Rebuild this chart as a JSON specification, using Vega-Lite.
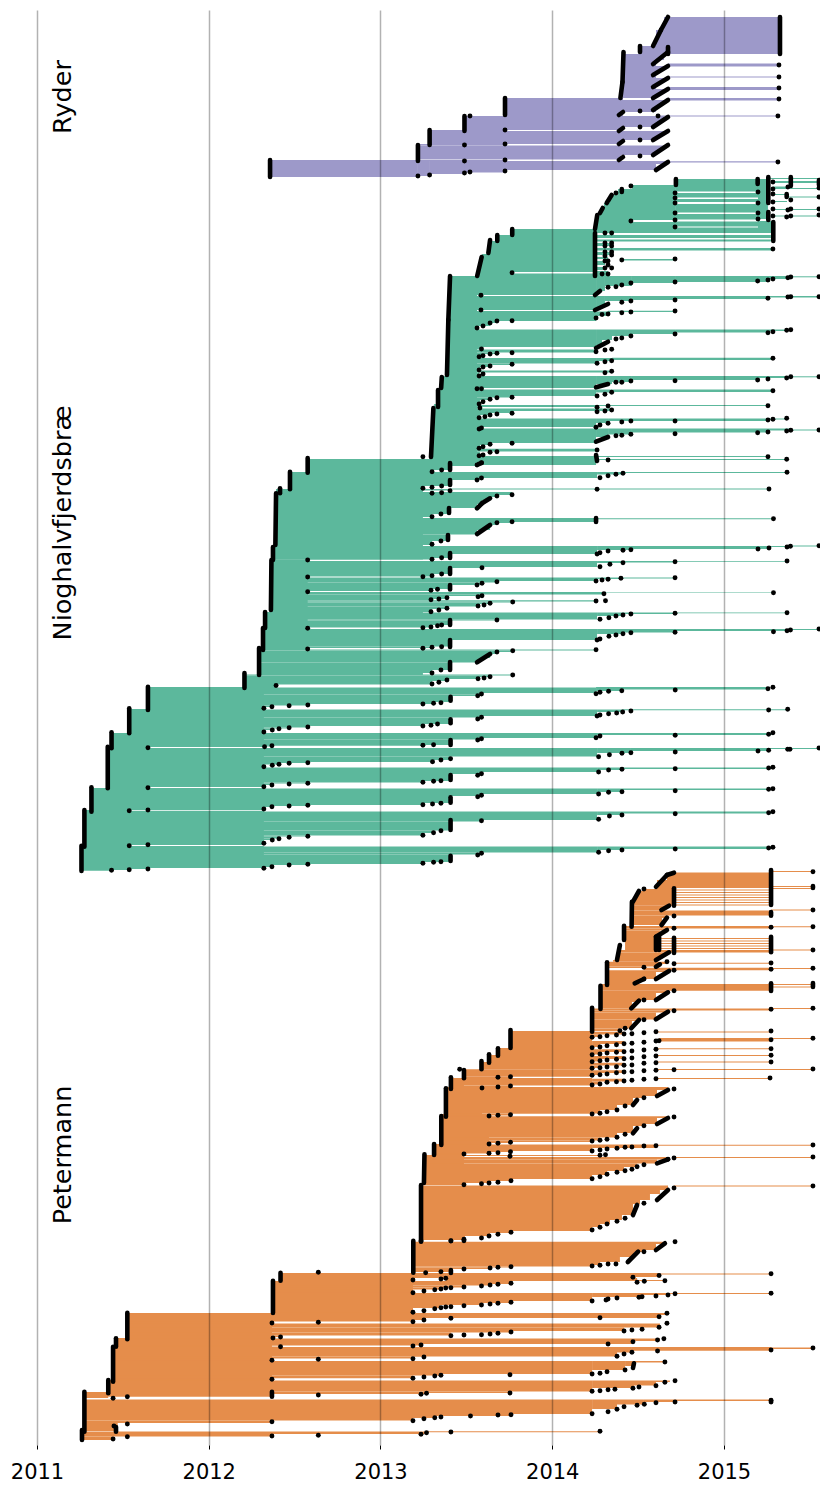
{"$schema":"https://vega.github.io/schema/vega-lite/v6.json","width":820,"height":1435,"autosize":{"type":"none"},"padding":{"left":0,"right":0,"top":10,"bottom":41},"background":"white","view":{"stroke":null},
"datasets":{
"bands":[
{"g":"N","from":2013.405,"to":2013.562,"r0":276,"r1":329},{"g":"N","from":2013.393,"to":2013.562,"r0":329,"r1":376},{"g":"N","from":2013.353,"to":2013.562,"r0":376,"r1":390},{"g":"N","from":2013.335,"to":2013.562,"r0":390,"r1":408},{"g":"N","from":2013.308,"to":2013.562,"r0":408,"r1":430},{"g":"N","from":2013.294,"to":2013.562,"r0":430,"r1":458},
{"g":"N","from":2012.392,"to":2013.247,"r0":489,"r1":545},{"g":"N","from":2012.374,"to":2013.247,"r0":545,"r1":559.5},{"g":"N","from":2012.365,"to":2012.576,"r0":559.5,"r1":612},{"g":"N","from":2012.328,"to":2012.576,"r0":612,"r1":629},{"g":"N","from":2012.316,"to":2012.576,"r0":629,"r1":650},{"g":"N","from":2012.293,"to":2013.247,"r0":672,"r1":675},{"g":"N","from":2012.208,"to":2012.392,"r0":684,"r1":688},{"g":"N","from":2012.365,"to":2013.247,"r0":612,"r1":613},
{"g":"N","from":2011.646,"to":2012.321,"r0":687,"r1":709.5},{"g":"N","from":2011.537,"to":2012.321,"r0":709,"r1":733},{"g":"N","from":2011.434,"to":2012.321,"r0":733,"r1":747},{"g":"N","from":2011.412,"to":2012.321,"r0":748,"r1":787},{"g":"N","from":2011.412,"to":2011.646,"r0":787,"r1":788},{"g":"N","from":2011.317,"to":2012.321,"r0":788,"r1":810.3},{"g":"N","from":2011.276,"to":2011.537,"r0":810,"r1":811},{"g":"N","from":2011.276,"to":2012.321,"r0":811,"r1":845},{"g":"N","from":2011.259,"to":2011.537,"r0":845,"r1":846},{"g":"N","from":2011.259,"to":2012.321,"r0":846,"r1":868},
{"g":"P","from":2011.526,"to":2012.368,"r0":1313,"r1":1338.5},{"g":"P","from":2011.46,"to":2012.368,"r0":1338,"r1":1347},{"g":"P","from":2011.443,"to":2012.368,"r0":1347,"r1":1380.5},{"g":"P","from":2011.415,"to":2012.368,"r0":1380,"r1":1396.5},{"g":"P","from":2012.374,"to":2013.189,"r0":1281,"r1":1313},{"g":"P","from":2013.354,"to":2013.632,"r0":1114,"r1":1145},{"g":"P","from":2013.381,"to":2013.591,"r0":1087,"r1":1116},{"g":"P","from":2013.253,"to":2013.486,"r0":1155,"r1":1185},{"g":"P","from":2013.312,"to":2013.486,"r0":1144,"r1":1156},{"g":"P","from":2013.41,"to":2013.486,"r0":1078,"r1":1088},
{"g":"R","from":2014.651,"to":2015.326,"r0":17,"r1":30},{"g":"R","from":2014.604,"to":2015.326,"r0":30,"r1":46},{"g":"R","from":2014.511,"to":2015.326,"r0":46,"r1":54},
{"g":"R","from":2014.412,"to":2014.651,"r0":54,"r1":60},{"g":"R","from":2014.412,"to":2014.604,"r0":60,"r1":66},{"g":"R","from":2014.412,"to":2014.651,"r0":66,"r1":71},{"g":"R","from":2014.412,"to":2014.604,"r0":71,"r1":78},{"g":"R","from":2014.412,"to":2014.651,"r0":78,"r1":83},{"g":"R","from":2014.412,"to":2014.604,"r0":83,"r1":89},{"g":"R","from":2014.412,"to":2014.651,"r0":89,"r1":94},{"g":"R","from":2014.412,"to":2014.604,"r0":94,"r1":98},
{"g":"R","from":2014.674,"to":2015.32,"r0":63.5,"r1":66.5},{"g":"R","from":2014.674,"to":2015.32,"r0":76.5,"r1":77.5},{"g":"R","from":2014.674,"to":2015.32,"r0":87,"r1":90},{"g":"R","from":2014.674,"to":2015.32,"r0":98,"r1":100.5},
{"g":"R","from":2013.725,"to":2014.412,"r0":98,"r1":116},{"g":"R","from":2014.412,"to":2014.651,"r0":100,"r1":105},{"g":"R","from":2014.412,"to":2014.604,"r0":105,"r1":112},
{"g":"R","from":2013.489,"to":2014.651,"r0":116,"r1":122},{"g":"R","from":2013.489,"to":2014.604,"r0":122,"r1":127},{"g":"R","from":2013.489,"to":2014.4,"r0":127,"r1":130},{"g":"R","from":2014.616,"to":2015.314,"r0":115.5,"r1":116.5},
{"g":"R","from":2013.286,"to":2013.725,"r0":130,"r1":131},{"g":"R","from":2013.286,"to":2014.651,"r0":131,"r1":136},{"g":"R","from":2013.286,"to":2014.604,"r0":136,"r1":140},{"g":"R","from":2013.286,"to":2014.4,"r0":140,"r1":144},
{"g":"R","from":2013.218,"to":2013.725,"r0":144,"r1":145.5},{"g":"R","from":2013.218,"to":2014.651,"r0":145.5,"r1":150},{"g":"R","from":2013.218,"to":2014.604,"r0":150,"r1":155},{"g":"R","from":2013.218,"to":2014.4,"r0":155,"r1":159.5},{"g":"R","from":2012.357,"to":2013.725,"r0":160,"r1":161},
{"g":"R","from":2012.357,"to":2013.218,"r0":161,"r1":177},{"g":"R","from":2013.218,"to":2013.288,"r0":161,"r1":176},{"g":"R","from":2013.288,"to":2013.492,"r0":161,"r1":174},{"g":"R","from":2013.492,"to":2013.725,"r0":161,"r1":172.5},{"g":"R","from":2013.725,"to":2014.604,"r0":161,"r1":170},{"g":"R","from":2014.604,"to":2014.674,"r0":161,"r1":164},{"g":"R","from":2014.674,"to":2015.314,"r0":161.3,"r1":162.5},

{"g":"N","from":2014.72,"to":2015.256,"r0":179,"r1":185},{"g":"N","from":2014.464,"to":2014.72,"r0":185,"r1":189},{"g":"N","from":2014.383,"to":2014.72,"r0":189,"r1":195},{"g":"N","from":2014.336,"to":2014.72,"r0":195,"r1":203},{"g":"N","from":2014.301,"to":2014.72,"r0":203,"r1":208},{"g":"N","from":2014.278,"to":2014.72,"r0":208,"r1":215},{"g":"N","from":2014.261,"to":2014.72,"r0":215,"r1":220},{"g":"N","from":2014.261,"to":2014.458,"r0":220,"r1":222},{"g":"N","from":2014.249,"to":2014.72,"r0":222,"r1":230},
{"g":"N","from":2014.72,"to":2015.198,"r0":185,"r1":191.5},{"g":"N","from":2014.72,"to":2015.198,"r0":193,"r1":197.5},{"g":"N","from":2014.72,"to":2015.198,"r0":199,"r1":202},{"g":"N","from":2014.72,"to":2015.198,"r0":204,"r1":212.5},{"g":"N","from":2014.72,"to":2015.198,"r0":214,"r1":219.5},{"g":"N","from":2014.72,"to":2015.198,"r0":221.5,"r1":226.5},{"g":"N","from":2014.72,"to":2015.198,"r0":227.5,"r1":229},
{"g":"N","from":2015.198,"to":2015.256,"r0":185,"r1":219},{"g":"N","from":2015.198,"to":2015.285,"r0":221,"r1":229},
{"g":"N","from":2015.256,"to":2015.553,"r0":178,"r1":179},{"g":"N","from":2015.285,"to":2015.553,"r0":181,"r1":183},{"g":"N","from":2015.285,"to":2015.367,"r0":186.5,"r1":188},{"g":"N","from":2015.285,"to":2015.553,"r0":188,"r1":189},{"g":"N","from":2015.285,"to":2015.367,"r0":194,"r1":195},{"g":"N","from":2015.367,"to":2015.553,"r0":196.5,"r1":197.5},{"g":"N","from":2015.285,"to":2015.367,"r0":201,"r1":202},{"g":"N","from":2015.285,"to":2015.553,"r0":209,"r1":210},{"g":"N","from":2015.285,"to":2015.553,"r0":215.5,"r1":216.5},
{"g":"N","from":2014.249,"to":2015.285,"r0":229,"r1":233},{"g":"N","from":2014.249,"to":2015.273,"r0":235,"r1":238},{"g":"N","from":2014.249,"to":2015.273,"r0":239.5,"r1":241.5},{"g":"N","from":2014.249,"to":2015.285,"r0":248,"r1":250.5},{"g":"N","from":2014.249,"to":2014.348,"r0":243,"r1":246},{"g":"N","from":2014.249,"to":2014.348,"r0":252,"r1":255},{"g":"N","from":2014.249,"to":2014.325,"r0":257,"r1":259},{"g":"N","from":2014.249,"to":2014.307,"r0":261,"r1":265},{"g":"N","from":2014.249,"to":2014.307,"r0":267,"r1":270},{"g":"N","from":2014.405,"to":2014.715,"r0":259,"r1":260.5},{"g":"N","from":2014.249,"to":2014.325,"r0":271,"r1":277},
{"g":"N","from":2013.767,"to":2014.249,"r0":229,"r1":235},{"g":"N","from":2013.678,"to":2014.249,"r0":235,"r1":241},{"g":"N","from":2013.632,"to":2014.249,"r0":241,"r1":254},{"g":"N","from":2013.591,"to":2014.249,"r0":254,"r1":262},{"g":"N","from":2013.574,"to":2014.249,"r0":262,"r1":272},{"g":"N","from":2013.574,"to":2013.766,"r0":272,"r1":276},{"g":"N","from":2013.766,"to":2014.249,"r0":273.5,"r1":276},
{"g":"N","from":2013.405,"to":2014.255,"r0":276,"r1":295},{"g":"N","from":2014.255,"to":2014.307,"r0":276,"r1":291},{"g":"N","from":2014.307,"to":2014.464,"r0":276,"r1":286},{"g":"N","from":2014.464,"to":2014.715,"r0":276,"r1":283},{"g":"N","from":2014.715,"to":2015.268,"r0":276,"r1":282},{"g":"N","from":2015.268,"to":2015.384,"r0":276,"r1":279},{"g":"N","from":2015.384,"to":2015.553,"r0":276.3,"r1":277.3},
{"g":"N","from":2013.405,"to":2014.255,"r0":296,"r1":310},{"g":"N","from":2014.255,"to":2014.307,"r0":296,"r1":307},{"g":"N","from":2014.307,"to":2014.464,"r0":296,"r1":301},{"g":"N","from":2014.464,"to":2014.715,"r0":296,"r1":300},{"g":"N","from":2014.715,"to":2015.256,"r0":296,"r1":299},{"g":"N","from":2015.256,"to":2015.553,"r0":296,"r1":297.5},
{"g":"N","from":2013.399,"to":2014.255,"r0":311,"r1":321},{"g":"N","from":2013.399,"to":2013.678,"r0":321,"r1":323},{"g":"N","from":2013.399,"to":2013.638,"r0":323,"r1":326},{"g":"N","from":2013.399,"to":2013.562,"r0":326,"r1":329},{"g":"N","from":2014.255,"to":2014.325,"r0":311.5,"r1":316},{"g":"N","from":2014.325,"to":2014.715,"r0":310.7,"r1":312},
{"g":"N","from":2013.393,"to":2014.255,"r0":329.5,"r1":347},{"g":"N","from":2014.255,"to":2014.715,"r0":329.5,"r1":334},{"g":"N","from":2014.255,"to":2014.464,"r0":334,"r1":336},{"g":"N","from":2014.255,"to":2014.348,"r0":336,"r1":340},{"g":"N","from":2014.255,"to":2014.29,"r0":340,"r1":345},{"g":"N","from":2014.715,"to":2015.268,"r0":329.5,"r1":332.5},{"g":"N","from":2015.268,"to":2015.384,"r0":329.5,"r1":331},
{"g":"N","from":2013.393,"to":2013.588,"r0":347,"r1":349},{"g":"N","from":2013.393,"to":2014.255,"r0":349.5,"r1":352.5},{"g":"N","from":2013.393,"to":2013.678,"r0":352.5,"r1":354},{"g":"N","from":2013.393,"to":2013.597,"r0":354,"r1":357},
{"g":"N","from":2013.393,"to":2014.255,"r0":358,"r1":363.5},{"g":"N","from":2014.255,"to":2014.348,"r0":358,"r1":361},{"g":"N","from":2014.348,"to":2015.283,"r0":357.7,"r1":360},{"g":"N","from":2013.393,"to":2013.766,"r0":363.5,"r1":365},{"g":"N","from":2013.393,"to":2013.638,"r0":365,"r1":367},{"g":"N","from":2013.393,"to":2013.579,"r0":367,"r1":370},{"g":"N","from":2013.393,"to":2014.348,"r0":370.5,"r1":372.5},{"g":"N","from":2013.393,"to":2013.574,"r0":372.5,"r1":376},
{"g":"N","from":2013.387,"to":2014.255,"r0":376,"r1":388},{"g":"N","from":2014.255,"to":2014.348,"r0":376,"r1":384},{"g":"N","from":2014.348,"to":2014.464,"r0":376,"r1":382},{"g":"N","from":2014.464,"to":2015.198,"r0":376,"r1":380},{"g":"N","from":2015.198,"to":2015.384,"r0":376,"r1":378},{"g":"N","from":2015.384,"to":2015.553,"r0":376.3,"r1":377.3},{"g":"N","from":2013.36,"to":2013.574,"r0":388,"r1":389},
{"g":"N","from":2013.353,"to":2014.255,"r0":389.5,"r1":396},{"g":"N","from":2014.255,"to":2014.348,"r0":389.5,"r1":392.5},{"g":"N","from":2014.348,"to":2015.283,"r0":389.5,"r1":392},{"g":"N","from":2013.353,"to":2013.766,"r0":396,"r1":397.5},{"g":"N","from":2013.353,"to":2013.638,"r0":397.5,"r1":400},{"g":"N","from":2013.335,"to":2013.579,"r0":400,"r1":404},{"g":"N","from":2013.312,"to":2013.579,"r0":404,"r1":408},
{"g":"N","from":2013.579,"to":2014.261,"r0":405,"r1":407},{"g":"N","from":2014.261,"to":2015.256,"r0":405,"r1":406},{"g":"N","from":2013.312,"to":2014.348,"r0":408.5,"r1":411},{"g":"N","from":2013.312,"to":2013.766,"r0":411,"r1":413},{"g":"N","from":2013.312,"to":2013.638,"r0":413,"r1":415},{"g":"N","from":2013.312,"to":2013.579,"r0":415,"r1":417.7},
{"g":"N","from":2013.306,"to":2014.255,"r0":418.5,"r1":427},{"g":"N","from":2014.255,"to":2014.325,"r0":418.5,"r1":423},{"g":"N","from":2014.325,"to":2015.256,"r0":418.5,"r1":421},{"g":"N","from":2015.256,"to":2015.367,"r0":418.5,"r1":419.5},
{"g":"N","from":2013.306,"to":2014.255,"r0":428.5,"r1":441},{"g":"N","from":2014.255,"to":2014.325,"r0":428.5,"r1":437},{"g":"N","from":2014.325,"to":2014.464,"r0":428.5,"r1":434.5},{"g":"N","from":2014.464,"to":2015.256,"r0":428.5,"r1":432.5},{"g":"N","from":2015.256,"to":2015.384,"r0":428.5,"r1":430.5},{"g":"N","from":2015.384,"to":2015.553,"r0":429.5,"r1":430.5},
{"g":"N","from":2013.3,"to":2014.255,"r0":441,"r1":443},{"g":"N","from":2013.3,"to":2013.638,"r0":443,"r1":445},{"g":"N","from":2013.3,"to":2013.579,"r0":445,"r1":448},{"g":"N","from":2013.294,"to":2014.255,"r0":448.7,"r1":451.5},{"g":"N","from":2013.294,"to":2013.579,"r0":451.5,"r1":455},{"g":"N","from":2013.294,"to":2014.255,"r0":456,"r1":461.5},{"g":"N","from":2014.255,"to":2015.256,"r0":456,"r1":457},{"g":"N","from":2014.255,"to":2015.367,"r0":459,"r1":460},
{"g":"N","from":2012.576,"to":2014.255,"r0":459,"r1":465},{"g":"N","from":2012.576,"to":2013.579,"r0":465,"r1":466},{"g":"N","from":2012.576,"to":2013.405,"r0":466,"r1":470},{"g":"N","from":2012.576,"to":2013.3,"r0":470,"r1":472.5},
{"g":"N","from":2012.473,"to":2014.261,"r0":472,"r1":478},{"g":"N","from":2014.261,"to":2014.412,"r0":472,"r1":474.5},{"g":"N","from":2014.412,"to":2015.367,"r0":472,"r1":473},{"g":"N","from":2012.473,"to":2013.579,"r0":478,"r1":480},{"g":"N","from":2012.473,"to":2013.405,"r0":480,"r1":486},{"g":"N","from":2012.473,"to":2013.247,"r0":486,"r1":489},
{"g":"N","from":2012.392,"to":2013.405,"r0":489,"r1":490.5},{"g":"N","from":2013.405,"to":2015.262,"r0":488.5,"r1":489.5},
{"g":"N","from":2012.392,"to":2013.766,"r0":492,"r1":495},{"g":"N","from":2012.392,"to":2013.678,"r0":495,"r1":497},{"g":"N","from":2012.392,"to":2013.638,"r0":497,"r1":500},{"g":"N","from":2012.392,"to":2013.591,"r0":500,"r1":504},{"g":"N","from":2012.392,"to":2013.562,"r0":504,"r1":508},{"g":"N","from":2012.392,"to":2013.399,"r0":508,"r1":514},{"g":"N","from":2012.392,"to":2013.3,"r0":514,"r1":517},
{"g":"N","from":2012.392,"to":2014.255,"r0":518,"r1":522},{"g":"N","from":2014.255,"to":2015.288,"r0":518.3,"r1":519.3},{"g":"N","from":2012.392,"to":2013.766,"r0":522,"r1":523},{"g":"N","from":2012.392,"to":2013.678,"r0":523,"r1":525},{"g":"N","from":2012.392,"to":2013.638,"r0":525,"r1":530},{"g":"N","from":2012.392,"to":2013.562,"r0":530,"r1":534.5},{"g":"N","from":2012.392,"to":2013.393,"r0":534.5,"r1":541},{"g":"N","from":2012.392,"to":2013.3,"r0":541,"r1":545},
{"g":"N","from":2012.374,"to":2014.261,"r0":546,"r1":553},{"g":"N","from":2014.261,"to":2014.458,"r0":546,"r1":550},{"g":"N","from":2014.458,"to":2015.262,"r0":546,"r1":549},{"g":"N","from":2015.262,"to":2015.384,"r0":546,"r1":547},{"g":"N","from":2015.384,"to":2015.553,"r0":545.5,"r1":546.5},
{"g":"N","from":2012.374,"to":2014.261,"r0":553,"r1":554},{"g":"N","from":2012.374,"to":2013.405,"r0":554,"r1":558},{"g":"N","from":2012.374,"to":2013.3,"r0":558,"r1":559.5},
{"g":"N","from":2012.365,"to":2014.261,"r0":561,"r1":567},{"g":"N","from":2014.261,"to":2014.412,"r0":561,"r1":563},{"g":"N","from":2014.412,"to":2014.715,"r0":561,"r1":562.5},{"g":"N","from":2014.715,"to":2015.367,"r0":561,"r1":561.8},{"g":"N","from":2012.365,"to":2013.591,"r0":567,"r1":568},{"g":"N","from":2012.365,"to":2013.405,"r0":568,"r1":574},{"g":"N","from":2012.365,"to":2013.3,"r0":574,"r1":576.5},
{"g":"N","from":2012.365,"to":2014.261,"r0":577.5,"r1":581},{"g":"N","from":2014.261,"to":2014.4,"r0":577.5,"r1":579},{"g":"N","from":2014.4,"to":2014.715,"r0":577.5,"r1":578.5},{"g":"N","from":2012.365,"to":2013.678,"r0":581,"r1":582.5},{"g":"N","from":2012.365,"to":2013.579,"r0":582.5,"r1":585},{"g":"N","from":2012.365,"to":2013.405,"r0":585,"r1":589},{"g":"N","from":2012.365,"to":2013.3,"r0":589,"r1":591},
{"g":"N","from":2012.365,"to":2014.301,"r0":592,"r1":594.5},{"g":"N","from":2014.301,"to":2015.288,"r0":592.5,"r1":593},{"g":"N","from":2012.365,"to":2013.591,"r0":594.5,"r1":596},{"g":"N","from":2012.365,"to":2013.387,"r0":596,"r1":599},{"g":"N","from":2012.365,"to":2013.3,"r0":599,"r1":600},
{"g":"N","from":2012.365,"to":2014.255,"r0":600.2,"r1":601.5},{"g":"N","from":2012.365,"to":2013.766,"r0":601.5,"r1":602.5},{"g":"N","from":2012.365,"to":2013.638,"r0":602.5,"r1":604},{"g":"N","from":2012.365,"to":2013.579,"r0":604,"r1":606.5},{"g":"N","from":2012.365,"to":2013.387,"r0":606.5,"r1":609},{"g":"N","from":2012.365,"to":2013.3,"r0":609,"r1":612},
{"g":"N","from":2012.328,"to":2014.261,"r0":612.5,"r1":619.5},{"g":"N","from":2014.261,"to":2014.412,"r0":612.5,"r1":616},{"g":"N","from":2014.412,"to":2014.715,"r0":612.5,"r1":614},{"g":"N","from":2014.715,"to":2015.367,"r0":612.5,"r1":613.3},{"g":"N","from":2012.328,"to":2013.678,"r0":619.5,"r1":620.5},{"g":"N","from":2012.328,"to":2013.405,"r0":620.5,"r1":625},{"g":"N","from":2012.328,"to":2013.3,"r0":625,"r1":627.5},
{"g":"N","from":2012.316,"to":2014.261,"r0":629,"r1":640},{"g":"N","from":2014.261,"to":2014.412,"r0":629,"r1":634},{"g":"N","from":2014.412,"to":2014.715,"r0":629,"r1":632.5},{"g":"N","from":2014.715,"to":2015.367,"r0":629,"r1":631},{"g":"N","from":2015.367,"to":2015.553,"r0":629,"r1":630},{"g":"N","from":2012.316,"to":2013.405,"r0":640,"r1":646.5},{"g":"N","from":2012.316,"to":2013.3,"r0":646.5,"r1":648},
{"g":"N","from":2012.293,"to":2014.255,"r0":649.5,"r1":650.5},{"g":"N","from":2012.293,"to":2013.766,"r0":650.5,"r1":652},{"g":"N","from":2012.293,"to":2013.678,"r0":652,"r1":654},{"g":"N","from":2012.293,"to":2013.638,"r0":654,"r1":658},{"g":"N","from":2012.293,"to":2013.591,"r0":658,"r1":660},{"g":"N","from":2012.293,"to":2013.562,"r0":660,"r1":662.5},{"g":"N","from":2012.293,"to":2013.405,"r0":662.5,"r1":670},{"g":"N","from":2012.293,"to":2013.3,"r0":670,"r1":673},
{"g":"N","from":2012.208,"to":2013.766,"r0":674.5,"r1":675.5},{"g":"N","from":2012.208,"to":2013.638,"r0":675.5,"r1":677},{"g":"N","from":2012.208,"to":2013.574,"r0":677,"r1":679},{"g":"N","from":2012.208,"to":2013.387,"r0":679,"r1":681},{"g":"N","from":2012.208,"to":2013.3,"r0":681,"r1":684.5},
{"g":"N","from":2011.646,"to":2014.255,"r0":687.5,"r1":693},{"g":"N","from":2014.255,"to":2014.4,"r0":687,"r1":691},{"g":"N","from":2014.4,"to":2015.256,"r0":687,"r1":689.5},{"g":"N","from":2011.646,"to":2013.588,"r0":693,"r1":694.5},{"g":"N","from":2011.646,"to":2013.562,"r0":694.5,"r1":696},{"g":"N","from":2011.646,"to":2013.405,"r0":696,"r1":702},{"g":"N","from":2011.646,"to":2013.312,"r0":702,"r1":704},{"g":"N","from":2011.646,"to":2012.577,"r0":704,"r1":705.5},{"g":"N","from":2011.646,"to":2012.368,"r0":705.5,"r1":707},{"g":"N","from":2011.646,"to":2012.321,"r0":707,"r1":708.5},
{"g":"N","from":2011.537,"to":2014.261,"r0":709.5,"r1":716},{"g":"N","from":2014.261,"to":2014.406,"r0":709.5,"r1":712},{"g":"N","from":2014.406,"to":2015.367,"r0":709.3,"r1":710.3},{"g":"N","from":2011.537,"to":2013.588,"r0":716,"r1":717.5},{"g":"N","from":2011.537,"to":2013.405,"r0":717.5,"r1":724},{"g":"N","from":2011.537,"to":2013.247,"r0":724,"r1":726},{"g":"N","from":2011.537,"to":2012.577,"r0":726,"r1":727.5},{"g":"N","from":2011.537,"to":2012.468,"r0":727.5,"r1":728.5},{"g":"N","from":2011.537,"to":2012.368,"r0":728.5,"r1":730},{"g":"N","from":2011.537,"to":2012.321,"r0":730,"r1":732.5},
{"g":"N","from":2011.434,"to":2014.261,"r0":733,"r1":738},{"g":"N","from":2014.261,"to":2015.285,"r0":733,"r1":735},{"g":"N","from":2011.434,"to":2013.588,"r0":738,"r1":739.5},{"g":"N","from":2011.434,"to":2013.405,"r0":739.5,"r1":745},{"g":"N","from":2011.434,"to":2013.247,"r0":745,"r1":745.8},{"g":"N","from":2011.434,"to":2012.368,"r0":745.5,"r1":746.5},{"g":"N","from":2011.434,"to":2011.646,"r0":746.5,"r1":748},
{"g":"N","from":2011.412,"to":2014.261,"r0":748,"r1":756.5},{"g":"N","from":2014.261,"to":2014.453,"r0":748,"r1":753},{"g":"N","from":2014.453,"to":2015.256,"r0":748,"r1":751},{"g":"N","from":2015.256,"to":2015.553,"r0":748,"r1":749},{"g":"N","from":2011.412,"to":2013.405,"r0":756.5,"r1":760},{"g":"N","from":2011.412,"to":2013.306,"r0":760,"r1":762},{"g":"N","from":2011.412,"to":2012.577,"r0":762,"r1":763},{"g":"N","from":2011.412,"to":2012.409,"r0":763,"r1":764.5},{"g":"N","from":2011.412,"to":2012.321,"r0":764.5,"r1":767},
{"g":"N","from":2011.412,"to":2014.261,"r0":767.5,"r1":772},{"g":"N","from":2014.261,"to":2014.4,"r0":767.5,"r1":770},{"g":"N","from":2014.4,"to":2015.285,"r0":767.5,"r1":769},{"g":"N","from":2011.412,"to":2013.588,"r0":772,"r1":774},{"g":"N","from":2011.412,"to":2013.405,"r0":774,"r1":781},{"g":"N","from":2011.412,"to":2013.247,"r0":781,"r1":782.5},{"g":"N","from":2011.412,"to":2012.577,"r0":782.5,"r1":783.5},{"g":"N","from":2011.412,"to":2012.368,"r0":783.5,"r1":785},{"g":"N","from":2011.412,"to":2012.321,"r0":785,"r1":786.7},{"g":"N","from":2011.412,"to":2011.646,"r0":786.7,"r1":787.7},
{"g":"N","from":2011.317,"to":2014.261,"r0":788.5,"r1":794},{"g":"N","from":2014.261,"to":2014.4,"r0":788.5,"r1":792},{"g":"N","from":2014.4,"to":2015.285,"r0":788.5,"r1":790},{"g":"N","from":2011.317,"to":2013.588,"r0":794,"r1":796},{"g":"N","from":2011.317,"to":2013.405,"r0":796,"r1":803},{"g":"N","from":2011.317,"to":2013.247,"r0":803,"r1":805},{"g":"N","from":2011.317,"to":2012.577,"r0":805,"r1":806},{"g":"N","from":2011.317,"to":2012.368,"r0":806,"r1":807},{"g":"N","from":2011.317,"to":2012.321,"r0":807,"r1":809},{"g":"N","from":2011.317,"to":2011.646,"r0":809,"r1":810},
{"g":"N","from":2011.276,"to":2014.261,"r0":811.5,"r1":820},{"g":"N","from":2014.261,"to":2014.4,"r0":811.5,"r1":815},{"g":"N","from":2014.4,"to":2015.285,"r0":811.5,"r1":813.5},{"g":"N","from":2011.276,"to":2013.588,"r0":820,"r1":821.5},{"g":"N","from":2011.276,"to":2013.405,"r0":821.5,"r1":830.5},{"g":"N","from":2011.276,"to":2013.312,"r0":830.5,"r1":833},{"g":"N","from":2011.276,"to":2013.247,"r0":833,"r1":835.5},{"g":"N","from":2011.276,"to":2012.577,"r0":835.5,"r1":836.5},{"g":"N","from":2011.276,"to":2012.409,"r0":836.5,"r1":838.5},{"g":"N","from":2011.276,"to":2012.368,"r0":838.5,"r1":840},{"g":"N","from":2011.276,"to":2012.321,"r0":840,"r1":843.5},{"g":"N","from":2011.276,"to":2011.646,"r0":843.5,"r1":845},{"g":"N","from":2011.276,"to":2011.537,"r0":845,"r1":846},
{"g":"N","from":2011.259,"to":2014.261,"r0":846.5,"r1":852.5},{"g":"N","from":2014.261,"to":2014.4,"r0":846.5,"r1":850},{"g":"N","from":2014.4,"to":2015.285,"r0":846.5,"r1":849},{"g":"N","from":2011.259,"to":2013.588,"r0":852.5,"r1":854.5},{"g":"N","from":2011.259,"to":2013.405,"r0":854.5,"r1":862},{"g":"N","from":2011.259,"to":2013.247,"r0":862,"r1":864},{"g":"N","from":2011.259,"to":2012.577,"r0":864,"r1":865},{"g":"N","from":2011.259,"to":2012.368,"r0":865,"r1":867},{"g":"N","from":2011.259,"to":2011.646,"r0":867,"r1":869},{"g":"N","from":2011.259,"to":2011.537,"r0":869,"r1":870},{"g":"N","from":2011.259,"to":2011.434,"r0":870,"r1":870.8},

{"g":"P","from":2014.709,"to":2015.274,"r0":872.5,"r1":888},{"g":"P","from":2014.668,"to":2014.709,"r0":874,"r1":880},{"g":"P","from":2014.61,"to":2014.709,"r0":880,"r1":889},{"g":"P","from":2014.534,"to":2014.709,"r0":889,"r1":891},{"g":"P","from":2014.505,"to":2014.709,"r0":891,"r1":896},{"g":"P","from":2014.476,"to":2014.709,"r0":896,"r1":902},{"g":"P","from":2014.464,"to":2014.709,"r0":902,"r1":905.7},{"g":"P","from":2014.464,"to":2014.68,"r0":905.7,"r1":908},{"g":"P","from":2014.464,"to":2014.639,"r0":908,"r1":910.5},
{"g":"P","from":2015.274,"to":2015.518,"r0":871,"r1":872},{"g":"P","from":2015.274,"to":2015.518,"r0":886,"r1":887},{"g":"P","from":2015.274,"to":2015.518,"r0":888,"r1":889},
{"g":"P","from":2014.709,"to":2015.274,"r0":889.5,"r1":890.5},{"g":"P","from":2014.709,"to":2015.274,"r0":892,"r1":893},{"g":"P","from":2014.709,"to":2015.274,"r0":894.5,"r1":895.5},{"g":"P","from":2014.709,"to":2015.274,"r0":897,"r1":898},{"g":"P","from":2014.709,"to":2015.274,"r0":899.5,"r1":900.5},{"g":"P","from":2014.709,"to":2015.274,"r0":902,"r1":903},{"g":"P","from":2014.709,"to":2015.274,"r0":904.5,"r1":905.5},
{"g":"P","from":2014.464,"to":2015.274,"r0":910.5,"r1":915.5},{"g":"P","from":2015.274,"to":2015.518,"r0":909.5,"r1":910.5},{"g":"P","from":2014.464,"to":2014.668,"r0":915.5,"r1":918},{"g":"P","from":2014.464,"to":2014.639,"r0":918,"r1":925},
{"g":"P","from":2014.424,"to":2015.274,"r0":926,"r1":928.5},{"g":"P","from":2015.274,"to":2015.518,"r0":926.2,"r1":927.2},{"g":"P","from":2014.424,"to":2014.668,"r0":928.5,"r1":930.5},{"g":"P","from":2014.424,"to":2014.627,"r0":930.5,"r1":934},{"g":"P","from":2014.424,"to":2014.604,"r0":934,"r1":950},
{"g":"P","from":2014.604,"to":2015.274,"r0":938,"r1":939},{"g":"P","from":2014.604,"to":2015.274,"r0":940.5,"r1":941.5},{"g":"P","from":2014.604,"to":2015.274,"r0":943,"r1":944},{"g":"P","from":2014.604,"to":2015.274,"r0":945.5,"r1":946.5},{"g":"P","from":2014.604,"to":2015.274,"r0":948,"r1":949},
{"g":"P","from":2014.394,"to":2015.274,"r0":950,"r1":952.5},{"g":"P","from":2015.274,"to":2015.518,"r0":949.5,"r1":950.5},{"g":"P","from":2014.394,"to":2014.68,"r0":952.5,"r1":955},{"g":"P","from":2014.377,"to":2014.627,"r0":955,"r1":960},{"g":"P","from":2014.354,"to":2014.604,"r0":960,"r1":961.7},{"g":"P","from":2014.319,"to":2014.674,"r0":961.7,"r1":964},{"g":"P","from":2014.709,"to":2015.274,"r0":962.8,"r1":963.8},{"g":"P","from":2014.319,"to":2014.627,"r0":964,"r1":966.5},{"g":"P","from":2014.319,"to":2014.534,"r0":966.5,"r1":968},
{"g":"P","from":2014.534,"to":2015.274,"r0":967.8,"r1":970.3},{"g":"P","from":2015.274,"to":2015.518,"r0":968,"r1":969},{"g":"P","from":2014.319,"to":2014.68,"r0":970.3,"r1":972},{"g":"P","from":2014.319,"to":2014.604,"r0":972,"r1":979},{"g":"P","from":2014.319,"to":2014.505,"r0":979,"r1":981},{"g":"P","from":2014.319,"to":2014.48,"r0":981,"r1":984},
{"g":"P","from":2014.278,"to":2015.274,"r0":984,"r1":990.7},{"g":"P","from":2015.274,"to":2015.518,"r0":984,"r1":985},{"g":"P","from":2015.274,"to":2015.518,"r0":986.5,"r1":987.5},{"g":"P","from":2014.278,"to":2014.674,"r0":990.7,"r1":993},{"g":"P","from":2014.278,"to":2014.604,"r0":993,"r1":1000},{"g":"P","from":2014.278,"to":2014.505,"r0":1000,"r1":1002},{"g":"P","from":2014.278,"to":2014.464,"r0":1002,"r1":1008.5},
{"g":"P","from":2014.232,"to":2015.274,"r0":1008.5,"r1":1010.5},{"g":"P","from":2015.274,"to":2015.518,"r0":1008,"r1":1009},{"g":"P","from":2014.232,"to":2014.674,"r0":1010.5,"r1":1012.5},{"g":"P","from":2014.232,"to":2014.604,"r0":1012.5,"r1":1019.5},{"g":"P","from":2014.232,"to":2014.505,"r0":1019.5,"r1":1021},{"g":"P","from":2014.232,"to":2014.464,"r0":1021,"r1":1028.5},{"g":"P","from":2014.232,"to":2014.394,"r0":1028.5,"r1":1031},
{"g":"P","from":2013.757,"to":2014.232,"r0":1031,"r1":1048},{"g":"P","from":2014.232,"to":2014.418,"r0":1031.7,"r1":1034.5},{"g":"P","from":2014.232,"to":2014.278,"r0":1034.5,"r1":1037},{"g":"P","from":2014.604,"to":2015.274,"r0":1031.5,"r1":1032.5},
{"g":"P","from":2014.232,"to":2014.418,"r0":1041,"r1":1044},{"g":"P","from":2014.232,"to":2014.278,"r0":1044,"r1":1047},{"g":"P","from":2014.622,"to":2015.274,"r0":1038,"r1":1041.5},{"g":"P","from":2015.274,"to":2015.518,"r0":1038,"r1":1039},
{"g":"P","from":2013.684,"to":2014.232,"r0":1048,"r1":1055},{"g":"P","from":2014.232,"to":2014.418,"r0":1049.3,"r1":1052},{"g":"P","from":2014.232,"to":2014.278,"r0":1052,"r1":1054.5},{"g":"P","from":2014.604,"to":2015.274,"r0":1048.3,"r1":1049.3},
{"g":"P","from":2013.632,"to":2014.232,"r0":1055,"r1":1062},{"g":"P","from":2014.232,"to":2014.418,"r0":1056,"r1":1059},{"g":"P","from":2014.232,"to":2014.278,"r0":1059,"r1":1061.5},{"g":"P","from":2014.604,"to":2015.274,"r0":1055,"r1":1056},
{"g":"P","from":2013.591,"to":2014.232,"r0":1062,"r1":1069.3},{"g":"P","from":2014.232,"to":2014.418,"r0":1062.7,"r1":1065.5},{"g":"P","from":2014.232,"to":2014.278,"r0":1065.5,"r1":1068},{"g":"P","from":2014.604,"to":2015.274,"r0":1061.5,"r1":1062.5},
{"g":"P","from":2013.486,"to":2014.232,"r0":1069.3,"r1":1076.7},{"g":"P","from":2014.232,"to":2014.418,"r0":1070.3,"r1":1073},{"g":"P","from":2014.232,"to":2014.278,"r0":1073,"r1":1075},{"g":"P","from":2014.604,"to":2015.518,"r0":1069,"r1":1070},
{"g":"P","from":2013.486,"to":2013.757,"r0":1076.7,"r1":1078},{"g":"P","from":2013.41,"to":2014.232,"r0":1078,"r1":1085.5},{"g":"P","from":2014.232,"to":2014.418,"r0":1078.7,"r1":1081.5},{"g":"P","from":2014.232,"to":2014.278,"r0":1081.5,"r1":1084.5},{"g":"P","from":2014.604,"to":2015.268,"r0":1078,"r1":1079},{"g":"P","from":2013.41,"to":2013.757,"r0":1085.5,"r1":1087.5},
{"g":"P","from":2013.381,"to":2014.674,"r0":1087,"r1":1090},{"g":"P","from":2013.381,"to":2014.61,"r0":1090,"r1":1096},{"g":"P","from":2013.381,"to":2014.534,"r0":1096,"r1":1098},{"g":"P","from":2013.381,"to":2014.47,"r0":1098,"r1":1105},{"g":"P","from":2013.381,"to":2014.377,"r0":1105,"r1":1110},{"g":"P","from":2013.381,"to":2014.278,"r0":1110,"r1":1113.5},{"g":"P","from":2013.381,"to":2014.232,"r0":1113.5,"r1":1114},{"g":"P","from":2013.354,"to":2013.754,"r0":1114,"r1":1115.5},{"g":"P","from":2013.354,"to":2013.632,"r0":1115.5,"r1":1116},
{"g":"P","from":2013.354,"to":2014.674,"r0":1116.3,"r1":1118},{"g":"P","from":2013.354,"to":2014.61,"r0":1118,"r1":1124},{"g":"P","from":2013.354,"to":2014.534,"r0":1124,"r1":1126},{"g":"P","from":2013.354,"to":2014.47,"r0":1126,"r1":1133},{"g":"P","from":2013.354,"to":2014.377,"r0":1133,"r1":1137.5},{"g":"P","from":2013.354,"to":2014.278,"r0":1137.5,"r1":1140.5},{"g":"P","from":2013.354,"to":2014.232,"r0":1140.5,"r1":1142},{"g":"P","from":2013.354,"to":2013.754,"r0":1142,"r1":1143},
{"g":"P","from":2013.312,"to":2014.232,"r0":1144.5,"r1":1151},{"g":"P","from":2014.232,"to":2014.604,"r0":1144.5,"r1":1148},{"g":"P","from":2014.604,"to":2015.518,"r0":1144.8,"r1":1145.8},{"g":"P","from":2013.312,"to":2013.754,"r0":1151,"r1":1152},{"g":"P","from":2013.312,"to":2013.632,"r0":1152,"r1":1153.5},{"g":"P","from":2013.312,"to":2013.486,"r0":1153.5,"r1":1154.5},{"g":"P","from":2013.253,"to":2014.278,"r0":1155,"r1":1156},
{"g":"P","from":2013.253,"to":2014.674,"r0":1157,"r1":1159.5},{"g":"P","from":2014.709,"to":2015.518,"r0":1157,"r1":1158},{"g":"P","from":2013.253,"to":2014.61,"r0":1159.5,"r1":1163.5},{"g":"P","from":2013.253,"to":2014.494,"r0":1163.5,"r1":1167},{"g":"P","from":2013.253,"to":2014.418,"r0":1167,"r1":1171},{"g":"P","from":2013.253,"to":2014.319,"r0":1171,"r1":1175},{"g":"P","from":2013.253,"to":2014.232,"r0":1175,"r1":1179},{"g":"P","from":2013.253,"to":2013.754,"r0":1179,"r1":1181},{"g":"P","from":2013.253,"to":2013.632,"r0":1181,"r1":1183},{"g":"P","from":2013.253,"to":2013.486,"r0":1183,"r1":1184.5},
{"g":"P","from":2013.236,"to":2014.674,"r0":1185.5,"r1":1190},{"g":"P","from":2014.709,"to":2015.518,"r0":1185.5,"r1":1186.5},{"g":"P","from":2013.236,"to":2014.627,"r0":1190,"r1":1194},{"g":"P","from":2013.236,"to":2014.569,"r0":1194,"r1":1200},{"g":"P","from":2013.236,"to":2014.511,"r0":1200,"r1":1204},{"g":"P","from":2013.236,"to":2014.47,"r0":1204,"r1":1215},{"g":"P","from":2013.236,"to":2014.406,"r0":1215,"r1":1220},{"g":"P","from":2013.236,"to":2014.336,"r0":1220,"r1":1224},{"g":"P","from":2013.236,"to":2014.278,"r0":1224,"r1":1227},{"g":"P","from":2013.236,"to":2014.232,"r0":1227,"r1":1231},{"g":"P","from":2013.236,"to":2013.76,"r0":1231,"r1":1233},{"g":"P","from":2013.236,"to":2013.638,"r0":1233,"r1":1236},{"g":"P","from":2013.236,"to":2013.492,"r0":1236,"r1":1240},
{"g":"P","from":2013.189,"to":2014.662,"r0":1241.7,"r1":1244},{"g":"P","from":2013.189,"to":2014.604,"r0":1244,"r1":1250},{"g":"P","from":2013.189,"to":2014.523,"r0":1250,"r1":1252},{"g":"P","from":2013.189,"to":2014.476,"r0":1252,"r1":1257},{"g":"P","from":2013.189,"to":2014.394,"r0":1257,"r1":1262},{"g":"P","from":2013.189,"to":2014.278,"r0":1262,"r1":1265},{"g":"P","from":2013.189,"to":2014.232,"r0":1265,"r1":1266.5},{"g":"P","from":2013.189,"to":2013.754,"r0":1266.5,"r1":1267.5},{"g":"P","from":2013.189,"to":2013.638,"r0":1267.5,"r1":1269},{"g":"P","from":2013.189,"to":2013.41,"r0":1269,"r1":1272},
{"g":"P","from":2012.418,"to":2014.47,"r0":1273,"r1":1278},{"g":"P","from":2014.47,"to":2014.622,"r0":1273,"r1":1277},{"g":"P","from":2014.622,"to":2015.274,"r0":1273.5,"r1":1274.5},{"g":"P","from":2012.418,"to":2013.189,"r0":1278,"r1":1281},{"g":"P","from":2013.381,"to":2014.494,"r0":1278,"r1":1281},{"g":"P","from":2014.494,"to":2014.656,"r0":1280,"r1":1281},
{"g":"P","from":2012.374,"to":2013.754,"r0":1281,"r1":1284},{"g":"P","from":2012.374,"to":2013.638,"r0":1284,"r1":1285.5},{"g":"P","from":2012.374,"to":2013.486,"r0":1285.5,"r1":1287.5},{"g":"P","from":2012.374,"to":2013.346,"r0":1287.5,"r1":1289.5},{"g":"P","from":2012.374,"to":2013.189,"r0":1289.5,"r1":1292.7},
{"g":"P","from":2012.374,"to":2014.232,"r0":1293,"r1":1301},{"g":"P","from":2014.232,"to":2014.511,"r0":1293,"r1":1297},{"g":"P","from":2014.511,"to":2014.674,"r0":1293,"r1":1295},{"g":"P","from":2014.674,"to":2015.274,"r0":1293,"r1":1294},{"g":"P","from":2012.374,"to":2013.754,"r0":1301,"r1":1303},{"g":"P","from":2012.374,"to":2013.588,"r0":1303,"r1":1305},{"g":"P","from":2012.374,"to":2013.346,"r0":1305,"r1":1308},{"g":"P","from":2012.374,"to":2013.189,"r0":1308,"r1":1312.5},
{"g":"P","from":2011.526,"to":2014.622,"r0":1313,"r1":1318},{"g":"P","from":2014.622,"to":2014.668,"r0":1313,"r1":1315},{"g":"P","from":2011.526,"to":2013.259,"r0":1318,"r1":1320},{"g":"P","from":2011.526,"to":2013.189,"r0":1320,"r1":1321.5},{"g":"P","from":2011.526,"to":2012.368,"r0":1321.5,"r1":1323},
{"g":"P","from":2011.526,"to":2014.627,"r0":1323.5,"r1":1327.5},{"g":"P","from":2011.526,"to":2014.418,"r0":1327.5,"r1":1331},{"g":"P","from":2011.526,"to":2013.754,"r0":1331,"r1":1332.5},{"g":"P","from":2011.526,"to":2013.41,"r0":1332.5,"r1":1335.5},{"g":"P","from":2011.526,"to":2012.418,"r0":1335.5,"r1":1337},{"g":"P","from":2011.526,"to":2012.374,"r0":1337,"r1":1338.3},
{"g":"P","from":2011.46,"to":2014.627,"r0":1338.5,"r1":1341},{"g":"P","from":2011.46,"to":2014.464,"r0":1341,"r1":1344},{"g":"P","from":2011.46,"to":2013.236,"r0":1344,"r1":1345.5},{"g":"P","from":2011.46,"to":2012.418,"r0":1345.5,"r1":1346.5},
{"g":"P","from":2011.443,"to":2014.377,"r0":1347,"r1":1356.5},{"g":"P","from":2014.377,"to":2014.464,"r0":1347,"r1":1352.5},{"g":"P","from":2014.464,"to":2015.274,"r0":1347,"r1":1350.7},{"g":"P","from":2015.274,"to":2015.518,"r0":1347.5,"r1":1349},{"g":"P","from":2011.443,"to":2013.259,"r0":1356.5,"r1":1357},{"g":"P","from":2011.443,"to":2013.189,"r0":1357,"r1":1358.5},{"g":"P","from":2011.443,"to":2012.368,"r0":1358.5,"r1":1360.3},
{"g":"P","from":2011.443,"to":2014.232,"r0":1361,"r1":1374},{"g":"P","from":2014.232,"to":2014.424,"r0":1361,"r1":1370},{"g":"P","from":2014.424,"to":2014.476,"r0":1361,"r1":1366},{"g":"P","from":2014.476,"to":2014.656,"r0":1361,"r1":1362.5},{"g":"P","from":2011.443,"to":2013.346,"r0":1374,"r1":1375.5},{"g":"P","from":2011.443,"to":2013.189,"r0":1375.5,"r1":1378.3},{"g":"P","from":2011.443,"to":2012.368,"r0":1378.3,"r1":1379.5},
{"g":"P","from":2011.415,"to":2014.232,"r0":1380.5,"r1":1391.5},{"g":"P","from":2014.232,"to":2014.476,"r0":1380.5,"r1":1388},{"g":"P","from":2014.476,"to":2014.604,"r0":1380.5,"r1":1385.5},{"g":"P","from":2014.604,"to":2014.685,"r0":1380.5,"r1":1382},{"g":"P","from":2011.415,"to":2013.754,"r0":1391.5,"r1":1393},{"g":"P","from":2011.415,"to":2013.259,"r0":1393,"r1":1394},{"g":"P","from":2011.415,"to":2012.368,"r0":1394,"r1":1396.5},{"g":"P","from":2011.276,"to":2011.415,"r0":1392,"r1":1398},
{"g":"P","from":2011.276,"to":2014.232,"r0":1399.5,"r1":1414},{"g":"P","from":2014.232,"to":2014.377,"r0":1399.5,"r1":1409},{"g":"P","from":2014.377,"to":2014.534,"r0":1399.5,"r1":1404.5},{"g":"P","from":2014.534,"to":2014.715,"r0":1399.5,"r1":1402},{"g":"P","from":2014.715,"to":2015.274,"r0":1399.5,"r1":1401},{"g":"P","from":2011.276,"to":2013.754,"r0":1414,"r1":1416},{"g":"P","from":2011.276,"to":2013.312,"r0":1416,"r1":1418},{"g":"P","from":2011.276,"to":2013.189,"r0":1418,"r1":1420.5},{"g":"P","from":2011.276,"to":2012.368,"r0":1420.5,"r1":1423},{"g":"P","from":2011.276,"to":2011.47,"r0":1423,"r1":1431},
{"g":"P","from":2011.262,"to":2013.268,"r0":1431.5,"r1":1434},{"g":"P","from":2013.268,"to":2014.278,"r0":1431.3,"r1":1432.3},{"g":"P","from":2011.262,"to":2012.368,"r0":1434,"r1":1436.5},{"g":"P","from":2011.262,"to":2011.443,"r0":1436.5,"r1":1440}
],
"runs":[
{"from":2014.674,"to":2014.633,"r0":17,"r1":30},{"from":2014.633,"to":2014.587,"r0":30,"r1":46},{"from":2015.326,"to":2015.326,"r0":17,"r1":54},{"from":2014.511,"to":2014.511,"r0":46,"r1":52},{"from":2014.415,"to":2014.409,"r0":52,"r1":82},{"from":2014.409,"to":2014.397,"r0":82,"r1":98},{"from":2014.674,"to":2014.674,"r0":47,"r1":54},
{"from":2014.674,"to":2014.587,"r0":52,"r1":64},{"from":2014.674,"to":2014.587,"r0":66,"r1":75},{"from":2014.674,"to":2014.587,"r0":78,"r1":87},{"from":2014.674,"to":2014.587,"r0":89,"r1":98},{"from":2014.674,"to":2014.587,"r0":100,"r1":110},{"from":2014.674,"to":2014.587,"r0":117,"r1":127},{"from":2014.674,"to":2014.587,"r0":131,"r1":140},{"from":2014.674,"to":2014.587,"r0":145,"r1":155},{"from":2014.674,"to":2014.604,"r0":162,"r1":170},
{"from":2014.412,"to":2014.388,"r0":112,"r1":115},{"from":2014.412,"to":2014.388,"r0":128,"r1":131},{"from":2014.412,"to":2014.388,"r0":141,"r1":144},{"from":2014.412,"to":2014.388,"r0":157,"r1":160},
{"from":2013.725,"to":2013.725,"r0":98,"r1":115},{"from":2013.489,"to":2013.489,"r0":116,"r1":131},{"from":2013.286,"to":2013.286,"r0":130,"r1":145},{"from":2013.218,"to":2013.218,"r0":145,"r1":161},{"from":2012.357,"to":2012.357,"r0":160,"r1":177},

{"from":2014.72,"to":2014.72,"r0":179,"r1":185},{"from":2014.405,"to":2014.405,"r0":189,"r1":192},{"from":2014.346,"to":2014.317,"r0":195,"r1":203},{"from":2014.294,"to":2014.278,"r0":208,"r1":213},{"from":2014.262,"to":2014.249,"r0":215,"r1":229},{"from":2014.249,"to":2014.249,"r0":233,"r1":276},{"from":2015.196,"to":2015.196,"r0":179,"r1":184},{"from":2015.258,"to":2015.258,"r0":177,"r1":203},{"from":2015.258,"to":2015.258,"r0":212,"r1":220},{"from":2015.287,"to":2015.287,"r0":222,"r1":241},{"from":2015.389,"to":2015.389,"r0":177,"r1":186},{"from":2015.553,"to":2015.553,"r0":180,"r1":185},{"from":2015.365,"to":2015.365,"r0":194,"r1":197},
{"from":2013.767,"to":2013.767,"r0":229,"r1":235},{"from":2013.68,"to":2013.68,"r0":235,"r1":241},{"from":2013.638,"to":2013.628,"r0":240,"r1":253},{"from":2013.589,"to":2013.563,"r0":257,"r1":276},{"from":2013.405,"to":2013.395,"r0":276,"r1":320},{"from":2013.395,"to":2013.387,"r0":320,"r1":375},{"from":2013.357,"to":2013.353,"r0":377,"r1":388},{"from":2013.335,"to":2013.335,"r0":390,"r1":407},{"from":2013.308,"to":2013.294,"r0":408,"r1":457},
{"from":2014.325,"to":2014.255,"r0":341.7,"r1":348},{"from":2014.325,"to":2014.255,"r0":384,"r1":387.3},{"from":2014.325,"to":2014.255,"r0":437,"r1":441.7},{"from":2014.325,"to":2014.249,"r0":304,"r1":310},{"from":2014.278,"to":2014.249,"r0":291,"r1":295},
{"from":2013.405,"to":2013.405,"r0":463,"r1":470},{"from":2013.405,"to":2013.405,"r0":480,"r1":485},{"from":2013.399,"to":2013.399,"r0":508,"r1":513},{"from":2013.393,"to":2013.393,"r0":535,"r1":540},{"from":2013.405,"to":2013.405,"r0":553,"r1":558},{"from":2013.405,"to":2013.405,"r0":568,"r1":574},{"from":2013.405,"to":2013.405,"r0":585,"r1":589.5},{"from":2013.405,"to":2013.405,"r0":620,"r1":625},{"from":2013.405,"to":2013.405,"r0":640,"r1":647},{"from":2013.405,"to":2013.405,"r0":662,"r1":670},{"from":2013.408,"to":2013.408,"r0":696.7,"r1":700.7},{"from":2013.408,"to":2013.408,"r0":719.3,"r1":723.3},{"from":2013.408,"to":2013.408,"r0":740,"r1":745},{"from":2013.408,"to":2013.408,"r0":775,"r1":780},{"from":2013.408,"to":2013.408,"r0":797.3,"r1":802.7},{"from":2013.408,"to":2013.408,"r0":820,"r1":830},{"from":2013.408,"to":2013.408,"r0":855.7,"r1":861},
{"from":2012.576,"to":2012.576,"r0":458,"r1":472.7},{"from":2012.473,"to":2012.473,"r0":471.7,"r1":489.3},{"from":2012.415,"to":2012.415,"r0":488.3,"r1":493.3},{"from":2012.392,"to":2012.388,"r0":493.3,"r1":545},{"from":2012.374,"to":2012.374,"r0":547,"r1":560},{"from":2012.365,"to":2012.362,"r0":560,"r1":610},{"from":2012.328,"to":2012.328,"r0":612,"r1":628},{"from":2012.316,"to":2012.316,"r0":628,"r1":650},{"from":2012.293,"to":2012.293,"r0":648,"r1":675},{"from":2012.208,"to":2012.208,"r0":673,"r1":688},
{"from":2013.638,"to":2013.591,"r0":498.3,"r1":503.3},{"from":2013.591,"to":2013.562,"r0":503.3,"r1":508.3},{"from":2013.638,"to":2013.562,"r0":525,"r1":534},{"from":2013.638,"to":2013.562,"r0":654,"r1":662.3},
{"from":2011.646,"to":2011.646,"r0":686.7,"r1":710},{"from":2011.537,"to":2011.537,"r0":708.3,"r1":733.3},{"from":2011.434,"to":2011.434,"r0":732.3,"r1":748.3},{"from":2011.412,"to":2011.412,"r0":746.7,"r1":788.3},{"from":2011.317,"to":2011.317,"r0":787.3,"r1":811.7},{"from":2011.276,"to":2011.276,"r0":810,"r1":846.7},{"from":2011.259,"to":2011.259,"r0":845.7,"r1":871},
{"from":2014.255,"to":2014.255,"r0":518,"r1":522},{"from":2014.255,"to":2014.261,"r0":455,"r1":461},

{"from":2014.709,"to":2014.668,"r0":872.7,"r1":875},{"from":2014.668,"to":2014.604,"r0":875,"r1":886.7},{"from":2014.505,"to":2014.47,"r0":891,"r1":901.7},{"from":2014.464,"to":2014.462,"r0":901.7,"r1":926.7},{"from":2014.418,"to":2014.418,"r0":925.7,"r1":940},{"from":2014.394,"to":2014.377,"r0":945,"r1":960},{"from":2014.319,"to":2014.319,"r0":962.3,"r1":985},{"from":2014.281,"to":2014.281,"r0":985.7,"r1":1009},{"from":2014.232,"to":2014.232,"r0":1007.7,"r1":1031.7},
{"from":2015.274,"to":2015.274,"r0":870,"r1":905},{"from":2014.709,"to":2014.709,"r0":888.3,"r1":905.7},{"from":2014.68,"to":2014.636,"r0":905.7,"r1":910},{"from":2015.274,"to":2015.274,"r0":912,"r1":915.7},{"from":2014.668,"to":2014.636,"r0":917.7,"r1":925},{"from":2014.668,"to":2014.604,"r0":930,"r1":936.7},{"from":2014.604,"to":2014.604,"r0":936.7,"r1":950},{"from":2014.622,"to":2014.622,"r0":936.7,"r1":950},{"from":2014.709,"to":2014.709,"r0":937.7,"r1":953},{"from":2015.274,"to":2015.274,"r0":936.7,"r1":952.3},{"from":2014.68,"to":2014.604,"r0":952.3,"r1":960},{"from":2014.627,"to":2014.604,"r0":964.3,"r1":966.7},{"from":2014.68,"to":2014.604,"r0":971,"r1":979},{"from":2014.534,"to":2014.48,"r0":979,"r1":983.3},{"from":2015.274,"to":2015.274,"r0":983.3,"r1":991},{"from":2014.674,"to":2014.604,"r0":992.3,"r1":1000},{"from":2014.505,"to":2014.46,"r0":1000.7,"r1":1008.3},{"from":2014.674,"to":2014.604,"r0":1011.7,"r1":1019.3},{"from":2014.505,"to":2014.46,"r0":1020,"r1":1028.3},{"from":2015.518,"to":2015.518,"r0":886,"r1":888},{"from":2015.518,"to":2015.518,"r0":983,"r1":987},
{"from":2013.757,"to":2013.757,"r0":1030,"r1":1048},{"from":2013.684,"to":2013.684,"r0":1048.3,"r1":1055.7},{"from":2013.632,"to":2013.632,"r0":1054.3,"r1":1062.7},{"from":2013.588,"to":2013.588,"r0":1061,"r1":1069.3},{"from":2013.486,"to":2013.486,"r0":1070,"r1":1078.3},{"from":2013.41,"to":2013.41,"r0":1077.3,"r1":1089},{"from":2013.381,"to":2013.381,"r0":1088.3,"r1":1116.7},{"from":2013.354,"to":2013.354,"r0":1116,"r1":1145},{"from":2013.312,"to":2013.312,"r0":1144,"r1":1155},{"from":2013.256,"to":2013.253,"r0":1154.3,"r1":1183},{"from":2013.236,"to":2013.236,"r0":1185,"r1":1241.7},{"from":2013.191,"to":2013.191,"r0":1240.7,"r1":1272.7},
{"from":2014.674,"to":2014.61,"r0":1090,"r1":1096},{"from":2014.494,"to":2014.47,"r0":1100,"r1":1105},{"from":2014.674,"to":2014.61,"r0":1118,"r1":1124},{"from":2014.494,"to":2014.47,"r0":1128.3,"r1":1133.3},{"from":2014.674,"to":2014.61,"r0":1159.3,"r1":1163.3},{"from":2014.674,"to":2014.61,"r0":1190,"r1":1200},{"from":2014.494,"to":2014.47,"r0":1205,"r1":1215},{"from":2014.656,"to":2014.604,"r0":1243.3,"r1":1250},{"from":2014.5,"to":2014.44,"r0":1251.7,"r1":1262},
{"from":2012.418,"to":2012.418,"r0":1272.7,"r1":1280.7},{"from":2012.374,"to":2012.374,"r0":1280.7,"r1":1313},{"from":2011.526,"to":2011.526,"r0":1312.7,"r1":1339.3},{"from":2011.46,"to":2011.46,"r0":1338.3,"r1":1346.7},{"from":2011.443,"to":2011.443,"r0":1346.7,"r1":1381.7},{"from":2011.415,"to":2011.415,"r0":1380,"r1":1393.3},{"from":2011.276,"to":2011.276,"r0":1391.7,"r1":1431.7},{"from":2011.262,"to":2011.262,"r0":1430,"r1":1440},{"from":2013.41,"to":2013.41,"r0":1270,"r1":1273},{"from":2012.368,"to":2012.368,"r0":1391.7,"r1":1396.7},{"from":2011.46,"to":2011.46,"r0":1427,"r1":1431.7},{"from":2014.476,"to":2014.47,"r0":1363.3,"r1":1368}
],
"dots":[
{"date":2014.511,"row":111},{"date":2014.511,"row":127},{"date":2014.511,"row":140},{"date":2014.511,"row":156},{"date":2014.616,"row":116},{"date":2013.725,"row":130},{"date":2013.489,"row":145},{"date":2013.725,"row":144},{"date":2013.489,"row":161},{"date":2013.725,"row":160},{"date":2013.218,"row":176},{"date":2013.286,"row":175},{"date":2013.489,"row":173},{"date":2013.521,"row":172},{"date":2013.725,"row":171},{"date":2013.521,"row":116},{"date":2015.32,"row":65},{"date":2015.32,"row":77},{"date":2015.32,"row":88},{"date":2015.32,"row":99},{"date":2015.314,"row":116},{"date":2015.314,"row":162},
{"date":2014.458,"row":186},{"date":2014.371,"row":193},{"date":2014.715,"row":193},{"date":2014.715,"row":198},{"date":2014.715,"row":203},{"date":2014.715,"row":213},{"date":2014.715,"row":220},{"date":2014.715,"row":227},{"date":2014.458,"row":221},{"date":2015.198,"row":192},{"date":2015.198,"row":203},{"date":2015.198,"row":213},{"date":2015.198,"row":219},{"date":2015.285,"row":182},{"date":2015.285,"row":189},{"date":2015.285,"row":194},{"date":2015.285,"row":202},{"date":2015.285,"row":209},{"date":2015.285,"row":216},{"date":2015.285,"row":249},{"date":2015.372,"row":187},{"date":2015.389,"row":200},{"date":2015.372,"row":210},{"date":2015.389,"row":209},{"date":2015.365,"row":217},{"date":2015.389,"row":216},{"date":2015.553,"row":188},{"date":2015.553,"row":197},{"date":2015.553,"row":209},{"date":2015.553,"row":215},
{"date":2014.307,"row":233},{"date":2014.346,"row":233},{"date":2014.307,"row":243},{"date":2014.307,"row":246},{"date":2014.346,"row":243},{"date":2014.346,"row":246},{"date":2014.307,"row":252},{"date":2014.307,"row":256},{"date":2014.346,"row":252},{"date":2014.346,"row":255},{"date":2014.325,"row":261},{"date":2014.325,"row":265},{"date":2014.307,"row":261},{"date":2014.346,"row":268},{"date":2014.307,"row":268},{"date":2014.29,"row":274},{"date":2014.325,"row":274},{"date":2014.405,"row":260},{"date":2014.715,"row":259},{"date":2013.766,"row":272.7},
{"date":2014.715,"row":282},{"date":2015.196,"row":281},{"date":2015.256,"row":280},{"date":2015.285,"row":279},{"date":2015.372,"row":277.7},{"date":2015.389,"row":277},{"date":2015.553,"row":276.7},{"date":2014.458,"row":283},{"date":2014.405,"row":285},{"date":2014.371,"row":286.7},{"date":2014.325,"row":287.3},{"date":2013.585,"row":295.3},
{"date":2013.585,"row":310},{"date":2014.715,"row":300},{"date":2015.256,"row":298.3},{"date":2015.372,"row":297},{"date":2015.389,"row":296.7},{"date":2015.553,"row":296.7},{"date":2014.458,"row":301},{"date":2014.405,"row":302.3},
{"date":2014.715,"row":311},{"date":2014.458,"row":312},{"date":2014.405,"row":312.7},{"date":2014.325,"row":314},{"date":2014.29,"row":314.5},{"date":2014.255,"row":318},{"date":2013.562,"row":328},{"date":2013.597,"row":326},{"date":2013.638,"row":323},{"date":2013.678,"row":321},{"date":2013.766,"row":320.7},
{"date":2014.715,"row":334},{"date":2015.256,"row":332.7},{"date":2015.285,"row":331.7},{"date":2015.365,"row":330.3},{"date":2015.389,"row":329.7},{"date":2014.458,"row":336},{"date":2014.405,"row":338},{"date":2014.371,"row":339},{"date":2013.588,"row":349},{"date":2014.255,"row":351.7},{"date":2014.307,"row":350},{"date":2014.346,"row":349.3},{"date":2013.574,"row":356.7},{"date":2013.597,"row":355.7},{"date":2013.638,"row":354},{"date":2013.678,"row":353.3},{"date":2013.766,"row":352.7},
{"date":2015.285,"row":358.3},{"date":2014.261,"row":363.3},{"date":2014.307,"row":361.7},{"date":2014.346,"row":360.7},{"date":2013.766,"row":364.3},{"date":2013.638,"row":366},{"date":2013.597,"row":367},{"date":2013.574,"row":370},{"date":2013.574,"row":376},{"date":2013.597,"row":374},{"date":2014.307,"row":372.7},{"date":2014.346,"row":371.3},
{"date":2015.553,"row":376.7},{"date":2015.389,"row":376.7},{"date":2015.365,"row":378},{"date":2015.256,"row":379},{"date":2015.196,"row":380},{"date":2014.715,"row":380.7},{"date":2014.458,"row":381},{"date":2014.405,"row":382.3},{"date":2014.371,"row":382.3},{"date":2013.588,"row":388.7},{"date":2013.562,"row":388.7},
{"date":2015.285,"row":390.7},{"date":2014.346,"row":392.3},{"date":2014.307,"row":394.3},{"date":2014.261,"row":396},{"date":2013.766,"row":397.3},{"date":2013.678,"row":397.7},{"date":2013.638,"row":399.3},{"date":2013.597,"row":401.7},{"date":2013.574,"row":404},{"date":2013.579,"row":408},{"date":2014.261,"row":407.3},{"date":2014.325,"row":406},{"date":2015.256,"row":405.7},{"date":2014.261,"row":411.7},{"date":2014.307,"row":411},{"date":2014.346,"row":410},{"date":2013.766,"row":413.3},{"date":2013.678,"row":414},{"date":2013.638,"row":415},{"date":2013.608,"row":416.7},{"date":2013.574,"row":417.7},
{"date":2015.365,"row":418.3},{"date":2015.285,"row":419.3},{"date":2015.256,"row":420},{"date":2014.715,"row":421},{"date":2014.458,"row":421},{"date":2014.405,"row":422},{"date":2014.325,"row":423.3},{"date":2014.278,"row":425},{"date":2014.255,"row":427.3},{"date":2013.574,"row":429},{"date":2013.588,"row":428},
{"date":2015.553,"row":430},{"date":2015.389,"row":430.3},{"date":2015.365,"row":431},{"date":2015.256,"row":432},{"date":2015.196,"row":432.7},{"date":2014.715,"row":433.7},{"date":2014.458,"row":434.3},{"date":2014.405,"row":435.3},{"date":2014.371,"row":435.7},{"date":2013.766,"row":443.3},{"date":2013.638,"row":444.3},{"date":2013.597,"row":446.7},{"date":2013.574,"row":448.3},{"date":2014.261,"row":450},{"date":2013.678,"row":451.7},{"date":2013.638,"row":452.3},{"date":2013.597,"row":455},{"date":2013.574,"row":455.7},{"date":2015.256,"row":456.7},{"date":2015.365,"row":459.3},{"date":2014.325,"row":460},{"date":2013.588,"row":462.7},{"date":2013.574,"row":464},{"date":2013.247,"row":456.7},
{"date":2013.588,"row":463},{"date":2013.562,"row":465},{"date":2013.3,"row":471.7},{"date":2013.356,"row":470},{"date":2015.367,"row":472.3},{"date":2014.412,"row":473.3},{"date":2014.371,"row":474.3},{"date":2014.325,"row":475.7},{"date":2014.278,"row":477.7},{"date":2013.588,"row":478},{"date":2013.562,"row":480},{"date":2013.356,"row":486},{"date":2013.3,"row":487.3},{"date":2013.247,"row":488.3},{"date":2015.262,"row":489},{"date":2014.261,"row":489.3},{"date":2013.3,"row":493.3},{"date":2013.356,"row":492.7},{"date":2013.405,"row":490.7},{"date":2013.766,"row":494.7},{"date":2013.678,"row":496},{"date":2013.352,"row":514},{"date":2013.3,"row":516.7},{"date":2015.288,"row":518.7},{"date":2013.766,"row":521.7},{"date":2013.678,"row":522.7},{"date":2013.352,"row":541},{"date":2013.3,"row":544.3},
{"date":2015.553,"row":545.7},{"date":2015.387,"row":546.3},{"date":2015.367,"row":547},{"date":2015.262,"row":548},{"date":2015.198,"row":549},{"date":2014.458,"row":549.7},{"date":2014.412,"row":550.3},{"date":2014.325,"row":551},{"date":2014.278,"row":552.7},{"date":2014.261,"row":554},{"date":2013.356,"row":557.7},{"date":2013.3,"row":559.3},{"date":2012.576,"row":560},
{"date":2015.367,"row":561},{"date":2014.715,"row":561.7},{"date":2014.412,"row":562.7},{"date":2014.336,"row":564.3},{"date":2014.278,"row":566.7},{"date":2013.591,"row":567.7},{"date":2013.356,"row":574},{"date":2013.3,"row":575.7},{"date":2013.247,"row":576.7},{"date":2012.576,"row":577},{"date":2014.715,"row":577.7},{"date":2014.4,"row":578.3},{"date":2014.325,"row":579.3},{"date":2014.29,"row":580},{"date":2014.255,"row":581},{"date":2013.678,"row":581.7},{"date":2013.591,"row":583.3},{"date":2013.562,"row":585},{"date":2013.332,"row":589.3},{"date":2013.294,"row":590.3},{"date":2012.576,"row":591.7},
{"date":2015.288,"row":592.7},{"date":2014.301,"row":593.7},{"date":2013.591,"row":595.7},{"date":2013.568,"row":596.7},{"date":2013.387,"row":597.7},{"date":2013.34,"row":599},{"date":2013.294,"row":599.7},{"date":2014.31,"row":600.7},{"date":2014.255,"row":601},{"date":2013.77,"row":602},{"date":2013.638,"row":603.3},{"date":2013.603,"row":605},{"date":2013.568,"row":606},{"date":2013.387,"row":608.3},{"date":2013.34,"row":610},{"date":2013.294,"row":611.7},
{"date":2015.367,"row":612.7},{"date":2014.715,"row":613.3},{"date":2014.458,"row":614},{"date":2014.412,"row":615},{"date":2014.371,"row":616},{"date":2014.33,"row":617.7},{"date":2014.278,"row":619.3},{"date":2013.678,"row":620},{"date":2013.356,"row":625},{"date":2013.332,"row":625.7},{"date":2013.294,"row":627},{"date":2013.247,"row":627.7},{"date":2012.576,"row":628.3},
{"date":2015.553,"row":629},{"date":2015.387,"row":630},{"date":2015.367,"row":630.7},{"date":2015.288,"row":631.7},{"date":2014.715,"row":632.3},{"date":2014.458,"row":632.7},{"date":2014.412,"row":633.7},{"date":2014.371,"row":635},{"date":2014.33,"row":636.3},{"date":2014.278,"row":639},{"date":2014.261,"row":640},{"date":2013.356,"row":646.7},{"date":2013.3,"row":647.3},{"date":2013.247,"row":648.3},{"date":2012.576,"row":649},
{"date":2014.255,"row":649.7},{"date":2013.77,"row":650.7},{"date":2013.678,"row":652},{"date":2013.352,"row":670},{"date":2013.3,"row":673},{"date":2013.77,"row":675},{"date":2013.638,"row":676.7},{"date":2013.603,"row":678},{"date":2013.568,"row":678.7},{"date":2013.387,"row":680},{"date":2013.34,"row":682.3},{"date":2013.3,"row":684},{"date":2012.392,"row":685.5},
{"date":2015.285,"row":687.3},{"date":2015.256,"row":688.7},{"date":2014.716,"row":690},{"date":2014.405,"row":690.7},{"date":2014.328,"row":691.3},{"date":2014.278,"row":692.3},{"date":2014.255,"row":693.7},{"date":2013.588,"row":694},{"date":2013.566,"row":695.7},{"date":2013.352,"row":702.7},{"date":2013.309,"row":703.3},{"date":2013.247,"row":704},{"date":2012.577,"row":705},{"date":2012.468,"row":705.7},{"date":2012.368,"row":706.7},{"date":2012.321,"row":708.3},
{"date":2015.371,"row":709.3},{"date":2015.26,"row":710},{"date":2014.458,"row":711},{"date":2014.41,"row":712},{"date":2014.375,"row":713},{"date":2014.328,"row":713.7},{"date":2014.278,"row":715},{"date":2014.261,"row":716},{"date":2013.588,"row":717.3},{"date":2013.566,"row":719},{"date":2013.332,"row":724},{"date":2013.294,"row":725.3},{"date":2013.247,"row":726},{"date":2012.577,"row":727},{"date":2012.468,"row":727.7},{"date":2012.409,"row":728.7},{"date":2012.37,"row":730},{"date":2012.321,"row":732},
{"date":2015.285,"row":732.7},{"date":2015.26,"row":734.3},{"date":2014.716,"row":735.3},{"date":2014.278,"row":736},{"date":2014.255,"row":737.7},{"date":2013.588,"row":738.7},{"date":2013.566,"row":740},{"date":2013.309,"row":744.7},{"date":2013.247,"row":745.3},{"date":2012.368,"row":745.7},{"date":2012.325,"row":746.7},{"date":2011.646,"row":747.7},
{"date":2015.553,"row":748},{"date":2015.384,"row":749.3},{"date":2015.371,"row":749.3},{"date":2015.26,"row":750.3},{"date":2015.198,"row":751},{"date":2014.716,"row":752},{"date":2014.458,"row":752.7},{"date":2014.406,"row":753.3},{"date":2014.333,"row":754.7},{"date":2014.27,"row":756.7},{"date":2013.408,"row":758.7},{"date":2013.352,"row":760},{"date":2013.303,"row":761.7},{"date":2012.577,"row":762.7},{"date":2012.468,"row":763.3},{"date":2012.409,"row":764.3},{"date":2012.37,"row":765.3},{"date":2012.321,"row":766.7},
{"date":2015.285,"row":767.3},{"date":2015.26,"row":768},{"date":2014.716,"row":768.7},{"date":2014.406,"row":769.3},{"date":2014.328,"row":770},{"date":2014.27,"row":772},{"date":2013.588,"row":773.7},{"date":2013.566,"row":775.3},{"date":2013.352,"row":780.7},{"date":2013.309,"row":781.3},{"date":2013.247,"row":782.3},{"date":2012.577,"row":783.3},{"date":2012.468,"row":784},{"date":2012.368,"row":785},{"date":2012.321,"row":786.7},{"date":2011.646,"row":787.7},
{"date":2015.285,"row":788.7},{"date":2015.26,"row":789.3},{"date":2014.716,"row":790.7},{"date":2014.406,"row":791.7},{"date":2014.328,"row":792.3},{"date":2014.27,"row":794},{"date":2013.588,"row":795.3},{"date":2013.566,"row":796.7},{"date":2013.352,"row":803.3},{"date":2013.303,"row":804},{"date":2013.247,"row":804.7},{"date":2012.577,"row":805.3},{"date":2012.468,"row":806},{"date":2012.368,"row":806.7},{"date":2012.321,"row":809},{"date":2011.646,"row":810},{"date":2011.537,"row":810.7},
{"date":2015.285,"row":811.7},{"date":2015.26,"row":812.7},{"date":2014.716,"row":813.7},{"date":2014.406,"row":815},{"date":2014.333,"row":816},{"date":2014.27,"row":819.3},{"date":2013.588,"row":820.7},{"date":2013.352,"row":830.7},{"date":2013.309,"row":832.7},{"date":2013.247,"row":835.3},{"date":2012.577,"row":836.3},{"date":2012.468,"row":837.3},{"date":2012.409,"row":838.7},{"date":2012.37,"row":840},{"date":2012.321,"row":843.3},{"date":2011.646,"row":844.7},{"date":2011.537,"row":845.7},
{"date":2015.285,"row":847.3},{"date":2015.26,"row":848},{"date":2014.716,"row":849},{"date":2014.406,"row":850},{"date":2014.328,"row":850.7},{"date":2014.27,"row":852.3},{"date":2013.588,"row":853.3},{"date":2013.566,"row":855},{"date":2013.352,"row":861.7},{"date":2013.309,"row":862.3},{"date":2013.247,"row":863.3},{"date":2012.577,"row":864.3},{"date":2012.468,"row":865},{"date":2012.368,"row":866.7},{"date":2012.321,"row":868.3},{"date":2011.646,"row":869},{"date":2011.537,"row":869.7},{"date":2011.434,"row":870.3},

{"date":2014.534,"row":889},{"date":2015.518,"row":871.7},{"date":2015.518,"row":910},{"date":2015.518,"row":926.7},{"date":2015.518,"row":950},{"date":2015.518,"row":968.3},{"date":2015.518,"row":1008.3},{"date":2014.709,"row":916},{"date":2015.274,"row":927.3},{"date":2014.709,"row":928.3},{"date":2014.668,"row":961.7},{"date":2014.709,"row":963.7},{"date":2015.274,"row":963},{"date":2014.534,"row":967.3},{"date":2014.709,"row":970.3},{"date":2015.274,"row":969.3},{"date":2014.709,"row":990.7},{"date":2014.534,"row":979},{"date":2014.534,"row":1000},{"date":2015.274,"row":1009.3},{"date":2014.709,"row":1010.7},{"date":2014.534,"row":1019.7},{"date":2014.424,"row":1028.3},{"date":2014.394,"row":1030.7},{"date":2015.274,"row":1031},
{"date":2014.232,"row":1037.3},{"date":2014.278,"row":1036.7},{"date":2014.319,"row":1035.7},{"date":2014.374,"row":1035},{"date":2014.418,"row":1034},{"date":2014.464,"row":1033.7},{"date":2014.534,"row":1032.7},{"date":2014.604,"row":1031.7},
{"date":2014.232,"row":1047.7},{"date":2014.278,"row":1047},{"date":2014.319,"row":1045.7},{"date":2014.374,"row":1044.7},{"date":2014.418,"row":1043.7},{"date":2014.464,"row":1043.3},{"date":2014.534,"row":1042.3},{"date":2014.604,"row":1041},{"date":2014.622,"row":1040.7},{"date":2015.274,"row":1039.7},{"date":2015.518,"row":1038.3},
{"date":2014.232,"row":1054.7},{"date":2014.278,"row":1054},{"date":2014.319,"row":1053},{"date":2014.374,"row":1052.3},{"date":2014.418,"row":1051.7},{"date":2014.464,"row":1051},{"date":2014.534,"row":1050},{"date":2014.604,"row":1049.3},{"date":2015.274,"row":1048.7},
{"date":2014.232,"row":1061.7},{"date":2014.278,"row":1060.7},{"date":2014.319,"row":1060},{"date":2014.374,"row":1059.3},{"date":2014.418,"row":1058.7},{"date":2014.464,"row":1058},{"date":2014.534,"row":1056.7},{"date":2014.604,"row":1056},{"date":2015.274,"row":1055.3},
{"date":2014.232,"row":1068.3},{"date":2014.278,"row":1067.7},{"date":2014.319,"row":1067},{"date":2014.374,"row":1066.7},{"date":2014.418,"row":1065.3},{"date":2014.464,"row":1065},{"date":2014.534,"row":1063.3},{"date":2014.604,"row":1062.7},{"date":2015.274,"row":1062},
{"date":2014.232,"row":1075.3},{"date":2014.278,"row":1074.7},{"date":2014.319,"row":1074},{"date":2014.374,"row":1072.7},{"date":2014.418,"row":1072},{"date":2014.464,"row":1071.7},{"date":2014.534,"row":1070.7},{"date":2014.604,"row":1070.3},{"date":2014.709,"row":1069.7},{"date":2015.518,"row":1069},
{"date":2014.232,"row":1085},{"date":2014.278,"row":1084},{"date":2014.319,"row":1082.3},{"date":2014.374,"row":1081.7},{"date":2014.418,"row":1081},{"date":2014.464,"row":1080.3},{"date":2014.534,"row":1079.3},{"date":2014.604,"row":1078.7},{"date":2015.268,"row":1078},
{"date":2013.684,"row":1077.3},{"date":2013.757,"row":1076.7},{"date":2013.591,"row":1088},{"date":2013.684,"row":1087},{"date":2013.757,"row":1086},{"date":2013.461,"row":1069.3},
{"date":2014.709,"row":1089},{"date":2014.534,"row":1097.7},{"date":2014.424,"row":1106},{"date":2014.377,"row":1110},{"date":2014.319,"row":1111.7},{"date":2014.278,"row":1113.3},{"date":2014.232,"row":1114},{"date":2013.757,"row":1114.7},{"date":2013.684,"row":1115.3},{"date":2013.632,"row":1116},
{"date":2014.709,"row":1117},{"date":2014.534,"row":1125.7},{"date":2014.424,"row":1134.3},{"date":2014.377,"row":1137.3},{"date":2014.319,"row":1139.3},{"date":2014.278,"row":1140.3},{"date":2014.232,"row":1141},{"date":2013.757,"row":1142.3},{"date":2013.684,"row":1143.3},{"date":2013.632,"row":1144},
{"date":2015.518,"row":1145},{"date":2014.604,"row":1145.7},{"date":2014.534,"row":1146},{"date":2014.464,"row":1147},{"date":2014.424,"row":1147.3},{"date":2014.377,"row":1148.3},{"date":2014.319,"row":1149},{"date":2014.278,"row":1150},{"date":2014.232,"row":1151},{"date":2013.757,"row":1151.7},{"date":2013.684,"row":1152.7},{"date":2013.632,"row":1153.3},{"date":2013.486,"row":1154},{"date":2013.754,"row":1156.3},{"date":2014.278,"row":1155.3},{"date":2014.31,"row":1154.7},
{"date":2015.518,"row":1157},{"date":2014.709,"row":1158},{"date":2014.674,"row":1159.3},{"date":2014.534,"row":1164.7},{"date":2014.494,"row":1166.7},{"date":2014.464,"row":1169.3},{"date":2014.424,"row":1170.7},{"date":2014.377,"row":1172.3},{"date":2014.319,"row":1174.3},{"date":2014.278,"row":1176.7},{"date":2014.232,"row":1178.7},{"date":2013.76,"row":1180.7},{"date":2013.684,"row":1182.3},{"date":2013.632,"row":1183},{"date":2013.588,"row":1183.7},{"date":2013.486,"row":1184.7},
{"date":2015.518,"row":1186},{"date":2014.709,"row":1188},{"date":2014.534,"row":1203.3},{"date":2014.424,"row":1218.3},{"date":2014.377,"row":1221.3},{"date":2014.319,"row":1224},{"date":2014.278,"row":1227.3},{"date":2014.232,"row":1230},{"date":2013.76,"row":1232.3},{"date":2013.684,"row":1234.3},{"date":2013.632,"row":1236},{"date":2013.588,"row":1238},{"date":2013.486,"row":1239.3},{"date":2013.41,"row":1240.7},
{"date":2014.715,"row":1241.7},{"date":2014.534,"row":1251.7},{"date":2014.371,"row":1264},{"date":2014.325,"row":1264},{"date":2014.278,"row":1265.3},{"date":2014.232,"row":1266},{"date":2013.236,"row":1241},{"date":2013.41,"row":1241},{"date":2013.486,"row":1240.7},{"date":2013.76,"row":1266.7},{"date":2013.684,"row":1267.3},{"date":2013.638,"row":1268},{"date":2013.486,"row":1269},{"date":2013.352,"row":1271.7},{"date":2013.263,"row":1272.7},
{"date":2012.638,"row":1272.3},{"date":2015.274,"row":1273.7},{"date":2014.622,"row":1275.5},{"date":2014.47,"row":1277.3},{"date":2014.494,"row":1282.3},{"date":2014.536,"row":1281.3},{"date":2014.656,"row":1280.7},{"date":2013.189,"row":1280},{"date":2013.352,"row":1279},{"date":2013.38,"row":1278.3},
{"date":2013.76,"row":1283.3},{"date":2013.684,"row":1284.3},{"date":2013.638,"row":1285},{"date":2013.588,"row":1286},{"date":2013.486,"row":1287},{"date":2013.41,"row":1287.7},{"date":2013.38,"row":1288},{"date":2013.352,"row":1289},{"date":2013.316,"row":1289.7},{"date":2013.253,"row":1291},{"date":2013.189,"row":1292.7},
{"date":2015.274,"row":1293.3},{"date":2014.715,"row":1293.7},{"date":2014.674,"row":1295},{"date":2014.604,"row":1296},{"date":2014.523,"row":1296.7},{"date":2014.505,"row":1297.3},{"date":2014.377,"row":1298},{"date":2014.325,"row":1299},{"date":2014.313,"row":1300},{"date":2014.232,"row":1301},
{"date":2013.76,"row":1302.3},{"date":2013.684,"row":1303.3},{"date":2013.638,"row":1304},{"date":2013.588,"row":1305},{"date":2013.486,"row":1305.7},{"date":2013.41,"row":1306.7},{"date":2013.38,"row":1307},{"date":2013.352,"row":1307.7},{"date":2013.316,"row":1308.7},{"date":2013.253,"row":1310.7},{"date":2013.189,"row":1312.3},
{"date":2014.668,"row":1313.3},{"date":2014.622,"row":1316.7},{"date":2014.278,"row":1317.7},{"date":2013.41,"row":1318.3},{"date":2013.253,"row":1320},{"date":2013.189,"row":1321.7},{"date":2012.638,"row":1322.3},{"date":2012.368,"row":1323},
{"date":2014.668,"row":1323.3},{"date":2014.622,"row":1327.3},{"date":2014.523,"row":1329.3},{"date":2014.464,"row":1330},{"date":2014.418,"row":1331},{"date":2013.76,"row":1332},{"date":2013.684,"row":1333.3},{"date":2013.638,"row":1334},{"date":2013.588,"row":1334.7},{"date":2013.486,"row":1335},{"date":2013.41,"row":1335.7},{"date":2012.418,"row":1337},{"date":2012.374,"row":1338},
{"date":2014.65,"row":1338.7},{"date":2014.613,"row":1340},{"date":2014.47,"row":1341.7},{"date":2014.325,"row":1344},{"date":2013.236,"row":1345},{"date":2013.189,"row":1346},{"date":2012.418,"row":1346.7},
{"date":2015.518,"row":1348},{"date":2015.274,"row":1350},{"date":2014.613,"row":1351},{"date":2014.464,"row":1352.3},{"date":2014.418,"row":1354},{"date":2014.377,"row":1356.3},{"date":2013.253,"row":1357},{"date":2013.189,"row":1358.7},{"date":2012.638,"row":1359.3},{"date":2012.368,"row":1360.3},
{"date":2014.656,"row":1362},{"date":2014.424,"row":1370},{"date":2014.319,"row":1371.7},{"date":2014.278,"row":1373.3},{"date":2014.232,"row":1374},{"date":2013.754,"row":1374.7},{"date":2013.352,"row":1375.3},{"date":2013.316,"row":1376},{"date":2013.253,"row":1377},{"date":2013.189,"row":1378.3},{"date":2012.368,"row":1379.3},
{"date":2014.715,"row":1380.7},{"date":2014.656,"row":1382.3},{"date":2014.604,"row":1385.7},{"date":2014.505,"row":1387},{"date":2014.47,"row":1388.3},{"date":2014.365,"row":1389.3},{"date":2014.325,"row":1389.7},{"date":2014.278,"row":1390.7},{"date":2014.232,"row":1391.3},{"date":2013.754,"row":1393},{"date":2013.268,"row":1393.3},{"date":2013.236,"row":1394.3},{"date":2012.638,"row":1395},{"date":2011.526,"row":1396.7},{"date":2011.443,"row":1398.3},
{"date":2015.274,"row":1400.3},{"date":2015.274,"row":1402},{"date":2014.715,"row":1402},{"date":2014.604,"row":1402.7},{"date":2014.536,"row":1404.3},{"date":2014.494,"row":1405.3},{"date":2014.418,"row":1406.7},{"date":2014.377,"row":1409.3},{"date":2014.325,"row":1411.7},{"date":2014.232,"row":1413.7},{"date":2013.76,"row":1414.7},{"date":2013.684,"row":1415},{"date":2013.524,"row":1416},{"date":2013.352,"row":1417},{"date":2013.316,"row":1417.7},{"date":2013.253,"row":1418.7},{"date":2013.189,"row":1420.7},{"date":2012.368,"row":1421.7},{"date":2011.526,"row":1424},{"date":2011.448,"row":1426},
{"date":2014.278,"row":1431.3},{"date":2013.41,"row":1432},{"date":2013.268,"row":1432.7},{"date":2013.236,"row":1434.3},{"date":2012.638,"row":1435.3},{"date":2012.368,"row":1436},{"date":2011.526,"row":1436.7},{"date":2011.443,"row":1439}
],
"names":[{"name":"Ryder","date":2011.151,"row":97},{"name":"Nioghalvfjerdsbræ","date":2011.151,"row":523},{"name":"Petermann","date":2011.151,"row":1155}]
},
"layer":[
{"data":{"name":"bands"},"mark":{"type":"rect"},"encoding":{
"x":{"field":"from","type":"quantitative","scale":{"domain":[2010.7846,2015.559],"nice":false,"zero":false},"axis":{"values":[2011,2012,2013,2014,2015],"format":"d","title":null,"domain":false,"grid":true,"gridColor":"#000000","gridOpacity":0.3,"gridWidth":1.5,"tickColor":"#000000","tickSize":4,"tickWidth":1,"labelFontSize":21,"labelFont":"DejaVu Sans","labelColor":"#000000","labelPadding":12,"labelFlush":false,"labelOverlap":false,"zindex":1}},
"x2":{"field":"to"},
"y":{"field":"r0","type":"quantitative","scale":{"domain":[10,1445],"reverse":true,"nice":false,"zero":false},"axis":null},
"y2":{"field":"r1"},
"color":{"field":"g","type":"nominal","scale":{"domain":["R","N","P"],"range":["#9d99c9","#5cb89c","#e58d4b"]},"legend":null}}},
{"data":{"name":"runs"},"mark":{"type":"rule","color":"#000000","strokeWidth":4.6,"strokeCap":"round"},"encoding":{
"x":{"field":"from","type":"quantitative"},"x2":{"field":"to"},"y":{"field":"r0","type":"quantitative"},"y2":{"field":"r1"}}},
{"data":{"name":"dots"},"mark":{"type":"circle","color":"#000000","opacity":1,"size":24},"encoding":{
"x":{"field":"date","type":"quantitative"},"y":{"field":"row","type":"quantitative"}}},
{"data":{"name":"names"},"mark":{"type":"text","angle":270,"font":"DejaVu Sans","fontSize":25.5,"color":"#000000","align":"center","baseline":"middle"},"encoding":{
"x":{"field":"date","type":"quantitative"},"y":{"field":"row","type":"quantitative"},"text":{"field":"name"}}}
]}
